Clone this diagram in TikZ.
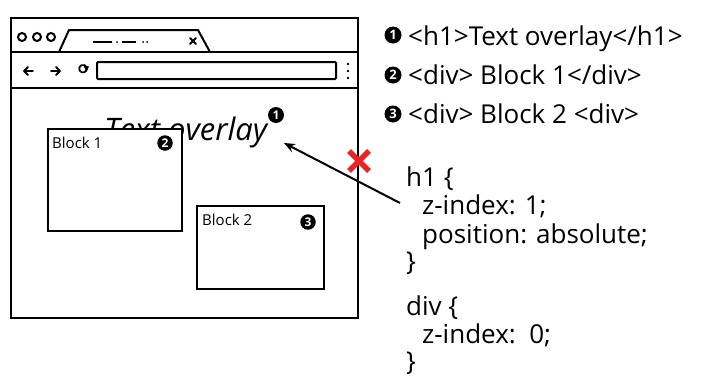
\documentclass[tikz,border=0pt]{standalone}
\usepackage{fontspec}
\setmainfont{Open Sans}
\usetikzlibrary{arrows.meta}
\definecolor{xred}{RGB}{232,38,38}
\begin{document}
\begin{tikzpicture}[x=1pt,y=-1pt,
  frame/.style={draw=black,line width=2pt},
  blk/.style={draw=black,line width=2.5pt,fill=white},
  num/.style={circle,fill=black,text=white,inner sep=0pt,minimum size=15.5pt,font=\fontsize{12}{12}\selectfont\bfseries},
  bignum/.style={num,minimum size=17pt,font=\fontsize{13}{13}\selectfont\bfseries},
  big/.style={font=\fontsize{26}{30}\selectfont, anchor=base west, inner sep=0pt},
  code/.style={font=\fontsize{26}{30}\selectfont, anchor=base west, inner sep=0pt},
  lbl/.style={font=\fontsize{15}{17}\selectfont, anchor=base west, inner sep=0pt},
  icon/.style={line width=1.8pt,line cap=round,line join=round}]
\useasboundingbox (0,0) rectangle (704,383);
% browser window
\draw[frame] (11,18) rectangle (358,318);
\draw[frame] (11,52) -- (358,52);
\draw[frame] (11,88) -- (358,88);
\foreach \cx in {22,37,51} \draw[line width=2pt] (\cx,37) circle (4);
\draw[frame,line join=round] (59,52) -- (69,30) -- (198,30) -- (210,52);
\draw[line width=1.6pt] (93,42) -- (112,42) (122,42) -- (136,42);
\fill (117,42) circle (1) (143,42) circle (1) (147,42) circle (1);
\draw[icon] (190,38) -- (196,44) (196,38) -- (190,44);
% navigation
\draw[icon] (33,71) -- (24,71) (28,67) -- (24,71) -- (28,75);
\draw[icon] (51,71) -- (60,71) (56,67) -- (60,71) -- (56,75);
\draw[icon] (86.5,70) arc (20:320:3.8);
\fill (83.5,65.5) -- (89,66.5) -- (86.5,72) -- cycle;
\draw[line width=2pt,rounded corners=1pt] (97,62) rectangle (336,79);
\fill (348,64) circle (1.3) (348,71) circle (1.3) (348,78) circle (1.3);
% content
\node[font=\fontsize{31}{34}\selectfont\itshape,anchor=base west,inner sep=0pt] (overlay) at (104,140) {Text overlay};
\node[num,minimum size=16pt] (n1) at (276,115) {1};
\draw[blk] (48,129) rectangle (182,231);
\node[lbl] (b1) at (52,148) {Block 1};
\node[num] (n2) at (165,143) {2};
\draw[blk] (197,206) rectangle (324,289);
\node[lbl] (b2) at (202,225) {Block 2};
\node[num] (n3) at (308,222) {3};
% arrow and cross
\coordinate (arrS) at (400,203);
\coordinate (arrE) at (284,143);
\draw[line width=2pt,-{Stealth[length=11pt,width=9pt]}] (arrS) -- (arrE);
\draw[xred,line width=5.5pt] (349,151) -- (369,171) (369,151) -- (349,171);
% legend
\node[bignum] (l1) at (393,35) {1};
\node[big] (t1) at (408,45) {<h1>Text overlay</h1>};
\node[bignum] (l2) at (393,75) {2};
\node[big] (t2) at (408,84) {<div> Block 1</div>};
\node[bignum] (l3) at (393,114) {3};
\node[big] (t3) at (408,123) {<div> Block 2 <div>};
% css code
\node[code] (c1) at (406,186) {h1 \{};
\node[code] (c2) at (422,214) {z-index: 1;};
\node[code] (c3) at (422,243) {position: absolute;};
\node[code] (c4) at (406,270) {\}};
\node[code] (c5) at (406,315) {div \{};
\node[code] (c6) at (422,343) {z-index:\ \ 0;};
\node[code] (c7) at (406,370) {\}};
\end{tikzpicture}
\end{document}
